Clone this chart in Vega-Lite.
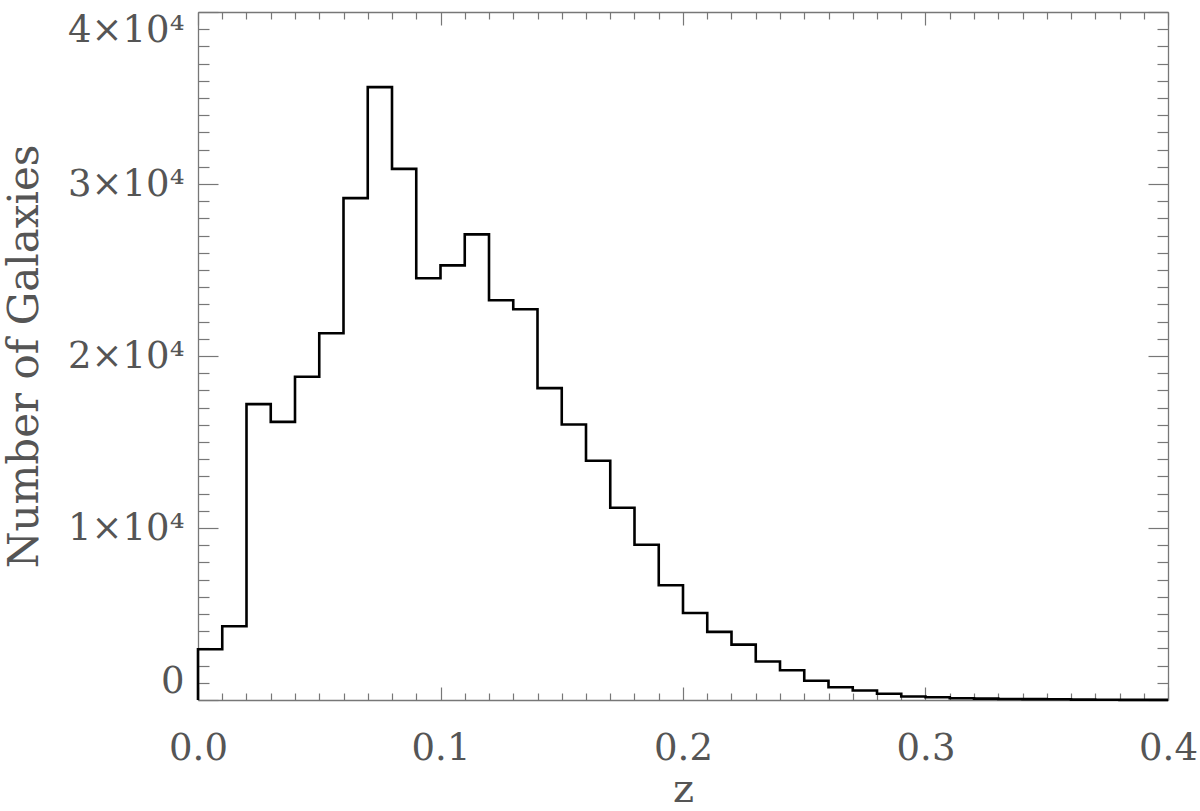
{
  "$schema": "https://vega.github.io/schema/vega-lite/v6.json",
  "width": 970,
  "height": 688,
  "autosize": {"type": "none"},
  "padding": {"left": 198, "top": 12, "right": 32, "bottom": 111},
  "background": "white",
  "config": {
    "view": {"stroke": null},
    "axis": {
      "grid": false,
      "labelFont": "DejaVu Serif",
      "labelFontSize": 37,
      "labelColor": "#555555",
      "titleFont": "DejaVu Serif",
      "titleFontSize": 42,
      "titleFontWeight": "normal",
      "titleColor": "#555555",
      "domainColor": "#777777",
      "domainWidth": 1.3,
      "tickColor": "#777777",
      "tickWidth": 1.2
    }
  },
  "data": {
    "values": [
      {"i": 0, "z": 0.0, "n": 0},
      {"i": 1, "z": 0.0, "n": 2950},
      {"i": 2, "z": 0.01, "n": 4290},
      {"i": 3, "z": 0.02, "n": 17200},
      {"i": 4, "z": 0.03, "n": 16170},
      {"i": 5, "z": 0.04, "n": 18790},
      {"i": 6, "z": 0.05, "n": 21320},
      {"i": 7, "z": 0.06, "n": 29180},
      {"i": 8, "z": 0.07, "n": 35630},
      {"i": 9, "z": 0.08, "n": 30880},
      {"i": 10, "z": 0.09, "n": 24520},
      {"i": 11, "z": 0.10, "n": 25270},
      {"i": 12, "z": 0.11, "n": 27070},
      {"i": 13, "z": 0.12, "n": 23240},
      {"i": 14, "z": 0.13, "n": 22720},
      {"i": 15, "z": 0.14, "n": 18130},
      {"i": 16, "z": 0.15, "n": 16020},
      {"i": 17, "z": 0.16, "n": 13910},
      {"i": 18, "z": 0.17, "n": 11180},
      {"i": 19, "z": 0.18, "n": 9030},
      {"i": 20, "z": 0.19, "n": 6670},
      {"i": 21, "z": 0.20, "n": 5060},
      {"i": 22, "z": 0.21, "n": 3960},
      {"i": 23, "z": 0.22, "n": 3220},
      {"i": 24, "z": 0.23, "n": 2240},
      {"i": 25, "z": 0.24, "n": 1730},
      {"i": 26, "z": 0.25, "n": 1120},
      {"i": 27, "z": 0.26, "n": 740},
      {"i": 28, "z": 0.27, "n": 550},
      {"i": 29, "z": 0.28, "n": 360},
      {"i": 30, "z": 0.29, "n": 200},
      {"i": 31, "z": 0.30, "n": 160},
      {"i": 32, "z": 0.31, "n": 100},
      {"i": 33, "z": 0.32, "n": 80},
      {"i": 34, "z": 0.33, "n": 60},
      {"i": 35, "z": 0.34, "n": 50},
      {"i": 36, "z": 0.35, "n": 40},
      {"i": 37, "z": 0.36, "n": 20},
      {"i": 38, "z": 0.37, "n": 15},
      {"i": 39, "z": 0.38, "n": 10},
      {"i": 40, "z": 0.39, "n": 10},
      {"i": 41, "z": 0.40, "n": 10}
    ]
  },
  "resolve": {"axis": {"x": "independent", "y": "independent"}},
  "layer": [
    {
      "mark": {"type": "line", "interpolate": "step-after", "color": "black", "strokeWidth": 2.6},
      "encoding": {
        "x": {"field": "z", "type": "quantitative", "scale": {"domain": [0, 0.4], "nice": false, "zero": false},
          "axis": {"orient": "bottom", "values": [0, 0.1, 0.2, 0.3, 0.4], "format": ".1f", "tickSize": -13, "labelPadding": 43, "labelFlush": false, "labelOverlap": false, "title": "z", "titleFontSize": 40, "titlePadding": 3}},
        "y": {"field": "n", "type": "quantitative", "scale": {"domain": [0, 40000], "nice": false},
          "axis": {"orient": "left", "values": [0, 10000, 20000, 30000, 40000], "labelExpr": "datum.value == 0 ? '0' : format(datum.value / 10000, 'd') + '×10⁴'", "tickSize": -20, "labelPadding": 34, "labelFlush": true, "labelOverlap": false, "title": "Number of Galaxies", "titlePadding": 21}},
        "order": {"field": "i", "type": "quantitative"}
      }
    },
    {
      "mark": {"type": "line", "opacity": 0},
      "encoding": {
        "x": {"field": "z", "type": "quantitative", "axis": {"orient": "bottom", "values": [0.01, 0.02, 0.03, 0.04, 0.05, 0.06, 0.07, 0.08, 0.09, 0.11, 0.12, 0.13, 0.14, 0.15, 0.16, 0.17, 0.18, 0.19, 0.21, 0.22, 0.23, 0.24, 0.25, 0.26, 0.27, 0.28, 0.29, 0.31, 0.32, 0.33, 0.34, 0.35, 0.36, 0.37, 0.38, 0.39], "tickSize": -7, "labels": false, "domain": false, "title": null}},
        "y": {"field": "n", "type": "quantitative", "axis": {"orient": "left", "values": [1000, 2000, 3000, 4000, 5000, 6000, 7000, 8000, 9000, 11000, 12000, 13000, 14000, 15000, 16000, 17000, 18000, 19000, 21000, 22000, 23000, 24000, 25000, 26000, 27000, 28000, 29000, 31000, 32000, 33000, 34000, 35000, 36000, 37000, 38000, 39000], "tickSize": -11, "labels": false, "domain": false, "title": null}},
        "order": {"field": "i", "type": "quantitative"}
      }
    },
    {
      "mark": {"type": "line", "opacity": 0},
      "encoding": {
        "x": {"field": "z", "type": "quantitative", "axis": {"orient": "top", "values": [0, 0.1, 0.2, 0.3, 0.4], "tickSize": -13, "labels": false, "title": null}},
        "y": {"field": "n", "type": "quantitative", "axis": {"orient": "right", "values": [0, 10000, 20000, 30000, 40000], "tickSize": -20, "labels": false, "title": null}},
        "order": {"field": "i", "type": "quantitative"}
      }
    },
    {
      "mark": {"type": "line", "opacity": 0},
      "encoding": {
        "x": {"field": "z", "type": "quantitative", "axis": {"orient": "top", "values": [0.01, 0.02, 0.03, 0.04, 0.05, 0.06, 0.07, 0.08, 0.09, 0.11, 0.12, 0.13, 0.14, 0.15, 0.16, 0.17, 0.18, 0.19, 0.21, 0.22, 0.23, 0.24, 0.25, 0.26, 0.27, 0.28, 0.29, 0.31, 0.32, 0.33, 0.34, 0.35, 0.36, 0.37, 0.38, 0.39], "tickSize": -7, "labels": false, "domain": false, "title": null}},
        "y": {"field": "n", "type": "quantitative", "axis": {"orient": "right", "values": [1000, 2000, 3000, 4000, 5000, 6000, 7000, 8000, 9000, 11000, 12000, 13000, 14000, 15000, 16000, 17000, 18000, 19000, 21000, 22000, 23000, 24000, 25000, 26000, 27000, 28000, 29000, 31000, 32000, 33000, 34000, 35000, 36000, 37000, 38000, 39000], "tickSize": -11, "labels": false, "domain": false, "title": null}},
        "order": {"field": "i", "type": "quantitative"}
      }
    }
  ]
}
